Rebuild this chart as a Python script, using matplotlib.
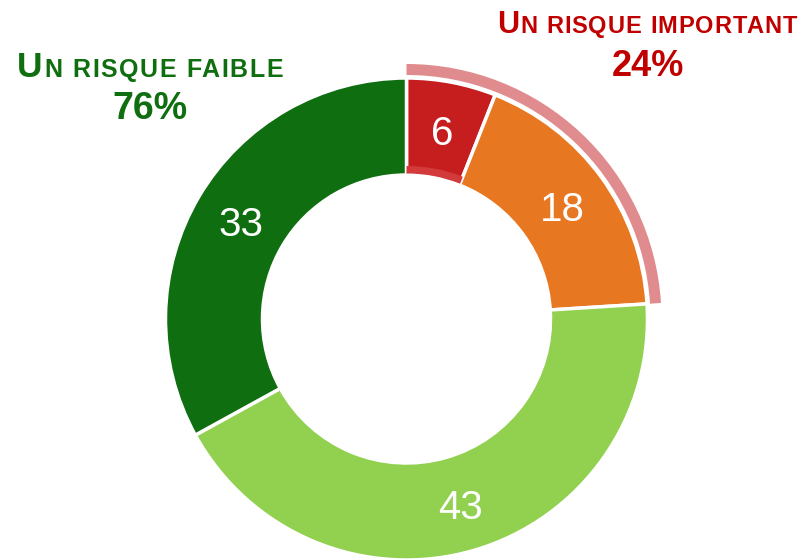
import matplotlib.pyplot as plt
import numpy as np

# valeurs du graphique
categories = ['Très élevé', 'Élevé', 'Modéré', 'Faible']
valeurs = [6, 18, 43, 33]
couleurs = ['#c61d1f', '#e87722', '#92d050', '#0f6e0f']
groupe_important = 24   # 6 + 18
groupe_faible = 76      # 43 + 33

plt.rcParams['font.family'] = ['Liberation Sans', 'DejaVu Sans']

W, H = 803, 559
fig = plt.figure(figsize=(W / 100, H / 100), dpi=100)
ax = fig.add_axes([0, 0, 1, 1])

centre = (406.5, H - 319)
R = 241
largeur = 97

# anneau de mise en évidence (risque important)
ax.pie([groupe_important, groupe_faible], radius=255, center=centre,
       startangle=90, counterclock=False, colors=['#e08c8e', 'none'],
       wedgeprops=dict(width=11, linewidth=0), frame=True)

# donut principal
wedges, _ = ax.pie(valeurs, radius=R, center=centre, startangle=90,
                   counterclock=False, colors=couleurs,
                   wedgeprops=dict(width=largeur, edgecolor='white', linewidth=2.5),
                   frame=True)

# petite bande plus claire sur le bord intérieur du rouge
ax.pie([valeurs[0], sum(valeurs) - valeurs[0]], radius=R - largeur + 9,
       center=centre, startangle=90, counterclock=False,
       colors=['#d23a3c', 'none'], wedgeprops=dict(width=8, linewidth=0),
       frame=True)
ax.pie([valeurs[0], sum(valeurs) - valeurs[0]], radius=R - largeur + 1.5,
       center=centre, startangle=90, counterclock=False,
       colors=['white', 'none'], wedgeprops=dict(width=3, linewidth=0),
       frame=True)

ax.set_xlim(0, W)
ax.set_ylim(0, H)
ax.set_aspect('equal')
ax.axis('off')

# étiquettes des valeurs
total = sum(valeurs)
angle = 90.0
r_lab = R - largeur / 2
for v in valeurs:
    mid = np.deg2rad(angle - v / total * 180)
    ax.text(centre[0] + r_lab * np.cos(mid), centre[1] + r_lab * np.sin(mid),
            str(v), color='white', fontsize=29, ha='center', va='center_baseline')
    angle -= v / total * 360

renderer = fig.canvas.get_renderer()


def largeur_txt(s, taille):
    t = ax.text(0, 0, s, fontsize=taille, weight='bold')
    w = t.get_window_extent(renderer).width
    t.remove()
    return w


def petites_caps(xc, y, premier, reste, grand, petit, couleur, espace):
    # fausses petites capitales, avec un léger espacement des lettres
    w1 = largeur_txt(premier, grand) + espace
    w2 = largeur_txt(reste, petit) + espace * (len(reste) - 1)
    x0 = xc - (w1 + w2) / 2
    ax.text(x0, y, premier, fontsize=grand, weight='bold', color=couleur,
            va='baseline', ha='left')
    x1 = x0 + w1
    for i, c in enumerate(reste):
        if c == ' ':
            continue
        x = x1 + largeur_txt(reste[:i + 1], petit) - largeur_txt(c, petit) + espace * i
        ax.text(x, y, c, fontsize=petit, weight='bold', color=couleur,
                va='baseline', ha='left')


vert = '#0f6e0f'
rouge = '#c00000'
petites_caps(150, H - 77, 'U', 'N RISQUE FAIBLE', 25.5, 18, vert, 1.6)
ax.text(150, H - 119, f'{groupe_faible}%', fontsize=27, weight='bold',
        color=vert, ha='center', va='baseline')

petites_caps(647, H - 33, 'U', 'N RISQUE IMPORTANT', 22, 17, rouge, 1.0)
ax.text(648, H - 76, f'{groupe_important}%', fontsize=26, weight='bold',
        color=rouge, ha='center', va='baseline')

fig.savefig('out.png', dpi=100)
